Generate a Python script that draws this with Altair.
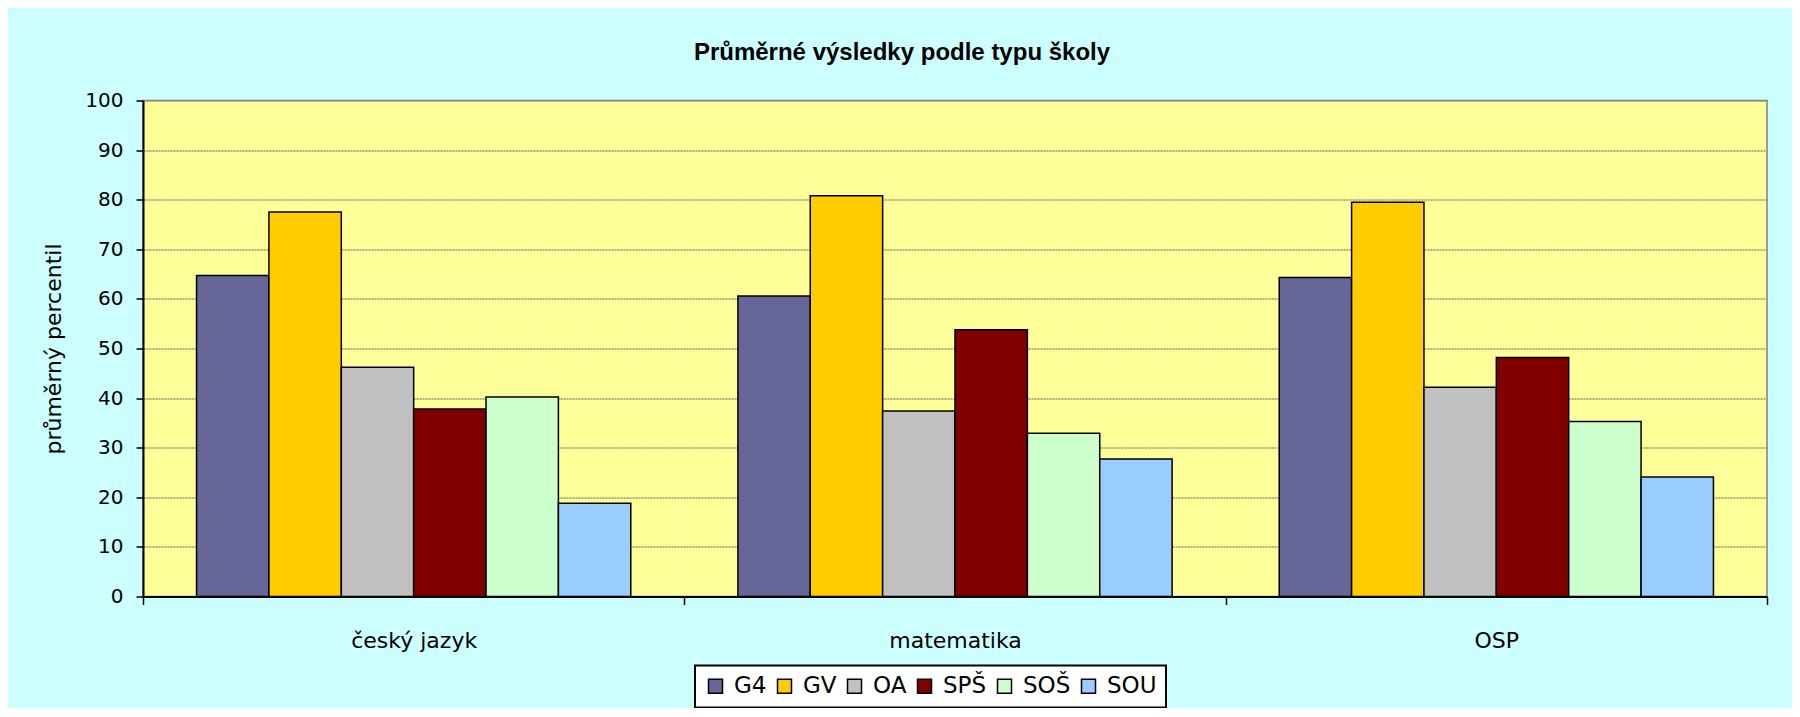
import altair as alt
import pandas as pd

# ---- data ----
categories = ["český jazyk", "matematika", "OSP"]
school_types = ["G4", "GV", "OA", "SPŠ", "SOŠ", "SOU"]
g4 = [64.7, 60.6, 64.3]
gv = [77.5, 80.8, 79.5]
oa = [46.2, 37.4, 42.2]
sps = [37.8, 53.8, 48.2]
sos = [40.2, 32.9, 35.3]
sou = [18.8, 27.7, 24.1]
y_ticks = list(range(0, 101, 10))

colors = ["#666699", "#FFCC00", "#C0C0C0", "#800000", "#CCFFCC", "#99CCFF"]

series = [g4, gv, oa, sps, sos, sou]
rows = []
for st, vals in zip(school_types, series):
    for cat, v in zip(categories, vals):
        rows.append({"subject": cat, "school": st, "value": v})
df = pd.DataFrame(rows)

chart = alt.Chart(df).mark_bar(stroke="black", strokeWidth=1.5).encode(
    x=alt.X(
        "subject:N",
        sort=categories,
        scale=alt.Scale(paddingInner=0, paddingOuter=0),
        axis=alt.Axis(
            title=None, labelAngle=0, tickBand="extent", tickSize=8,
            tickColor="black", tickWidth=1.5, domainColor="black", domainWidth=2,
            labelFont="DejaVu Sans", labelFontSize=22, labelColor="black",
            labelPadding=26, grid=False,
        ),
    ),
    xOffset=alt.XOffset(
        "school:N", sort=school_types,
        scale=alt.Scale(paddingInner=0, paddingOuter=0.74),
    ),
    y=alt.Y(
        "value:Q",
        scale=alt.Scale(domain=[0, 100], nice=False),
        axis=alt.Axis(
            title="průměrný percentil", values=y_ticks,
            titleFont="DejaVu Sans", titleFontSize=22, titleFontWeight="normal",
            titleColor="black", titleX=-90, titleY=248, titleAngle=-90,
            titleAlign="center", titleBaseline="middle",
            labelFont="DejaVu Sans", labelFontSize=20, labelColor="black",
            labelPadding=13, tickSize=7, tickColor="black", tickWidth=1.5,
            domainColor="black", domainWidth=2,
            grid=True, gridColor="#8f8f78", gridWidth=1.5, gridDash=[2, 1],
        ),
    ),
    color=alt.Color(
        "school:N", sort=school_types,
        scale=alt.Scale(domain=school_types, range=colors),
        legend=alt.Legend(
            title=None, orient="none", legendX=552, legendY=565,
            direction="horizontal", symbolType="square", symbolSize=196,
            symbolStrokeColor="black", symbolStrokeWidth=1.5,
            labelFont="DejaVu Sans", labelFontSize=23, labelColor="black",
            labelOffset=7, columnPadding=6, padding=9,
            fillColor="white", strokeColor="black",
        ),
    ),
).properties(
    width=1624,
    height=496,
    autosize=alt.AutoSizeParams(type="none"),
    padding={"left": 135, "top": 92.5, "right": 25, "bottom": 111.5},
    background="#CCFFFF",
    title=alt.Title(
        "Průměrné výsledky podle typu školy",
        font="Liberation Sans", fontSize=24, fontWeight="bold",
        color="black", offset=26, dx=-53,
    ),
).configure_view(
    fill="#FFFF99", stroke="#808080", strokeWidth=1.5
).configure_legend(strokeWidth=2)

chart.save("out.html", embed_options={"renderer": "svg", "actions": False})
